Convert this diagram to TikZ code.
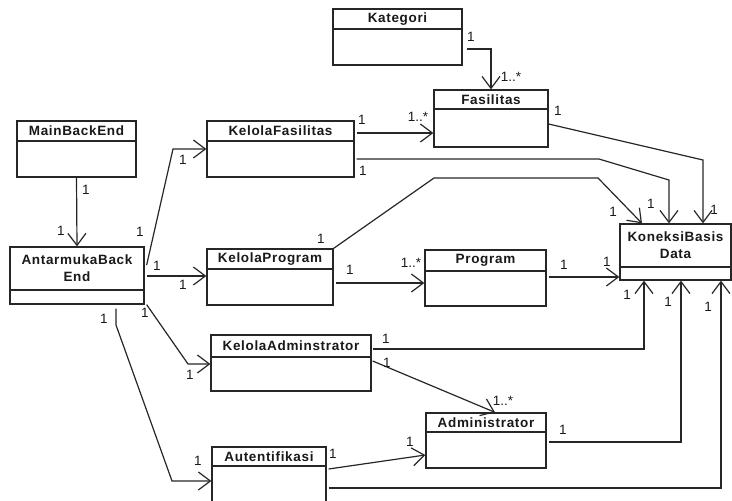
\documentclass[tikz,border=0pt]{standalone}
\usepackage{fontspec}
\setmainfont{Liberation Sans}
\usetikzlibrary{arrows.meta,fit}
\newfontfamily\titlefont[LetterSpace=5]{Liberation Sans}
\tikzset{
  classbox/.style={draw=black!85, line width=1.3pt, inner sep=0pt, fill=white},
  ctitle/.style={font=\titlefont\fontsize{13.5}{17}\selectfont\bfseries, align=center, inner sep=0pt, text=black!90},
  lab/.style={font=\fontsize{13.5}{15}\selectfont, inner sep=0pt, text=black!90},
  conn/.style={draw=black!85, line width=1.2pt, ->},
  >={Straight Barb[length=12pt,width=18pt,line width=1.2pt]}
}
\newcommand\umlclass[7]{%
  \node[classbox, fit={(#2,#3) (#4,#5)}] (#1) {};
  \draw[black!85, line width=1.3pt] (#2,#6) -- (#4,#6);
  \path (#2,#3) -- node[ctitle] (#1-title) {#7} (#4,#6);
}
\begin{document}
\begin{tikzpicture}[x=1pt,y=-1pt]
\useasboundingbox (0,0) rectangle (732,501);
\begin{scope}
\clip (0,0) rectangle (732,501);
\umlclass{kat}{333}{9}{462}{65}{29}{Kategori}
\umlclass{fas}{434}{90}{548}{147}{109}{Fasilitas}
\umlclass{main}{17}{121}{136}{177}{141}{MainBackEnd}
\umlclass{kf}{207}{121}{354}{177}{141}{KelolaFasilitas}
\umlclass{ant}{10}{247}{144}{304}{290}{AntarmukaBack\\End}
\umlclass{kp}{207}{249}{333}{305}{269}{KelolaProgram}
\umlclass{prog}{425}{250}{546}{306}{271}{Program}
\umlclass{kbd}{620}{224}{731}{280}{267}{KoneksiBasis\\Data}
\umlclass{ka}{211}{335}{371}{391}{357}{KelolaAdminstrator}
\umlclass{adm}{426}{413}{546}{468}{432}{Administrator}
\umlclass{aut}{212}{447}{326}{515}{466}{Autentifikasi}

% connectors
\draw[conn] (kat.east |- 0,49) ++(4,0) -| (fas.north);
\draw[conn] (kf.east |- 0,133) ++(2,0) -- (fas.west |- 0,133);
\draw[conn] (kf.east |- 0,159) ++(2,0) -- (599,159) -- (669,180) -- (kbd.north -| 669,0);
\draw[conn] (fas.east |- 0,124) -- (703,160) -- (kbd.north -| 703,0);
\draw[conn] (kp.north east) -- (434,178) -- (598,178) -- (kbd.north -| 642,0);
\draw[conn] (ant.east |- 0,265) ++(2,0) -- (173,149) -- (kf.west |- 0,149);
\draw[conn] (ant.east |- 0,276) ++(2,0) -- (kp.west |- 0,276);
\draw[conn] (ant.south east) ++(2,0) -- (188,364) -- (ka.west |- 0,364);
\draw[conn] (ant.south -| 116,0) ++(0,4) -- (116,325) -- (172,481) -- (aut.west |- 0,481);
\draw[conn] (main.south) -- (ant.north);
\draw[conn] (kp.east |- 0,283) ++(2,0) -- (prog.west |- 0,283);
\draw[conn] (prog.east |- 0,277) ++(2,0) -- (kbd.west |- 0,277);
\draw[conn] (ka.east |- 0,349) ++(1,0) -| (kbd.south -| 644,0);
\draw[conn] (ka.east |- 0,361) ++(1,0) -- (adm.north -| 495,0);
\draw[conn] (aut.east |- 0,469) ++(2,0) -- (adm.west |- 0,455);
\draw[conn] (adm.east |- 0,442) ++(2,0) -| (kbd.south -| 681,0);
\draw[conn] (aut.east |- 0,488) ++(2,0) -| (kbd.south -| 721,0);

% multiplicities
\node[lab] (l1) at (471,37) {1};
\node[lab] (l2) at (511,77) {1..*};
\node[lab] (l3) at (362,120) {1};
\node[lab] (l4) at (418,117) {1..*};
\node[lab] (l5) at (363,171) {1};
\node[lab] (l6) at (651,204) {1};
\node[lab] (l7) at (558,111) {1};
\node[lab] (l8) at (714,210) {1};
\node[lab] (l9) at (321,239) {1};
\node[lab] (l10) at (613,212) {1};
\node[lab] (l11) at (140,232) {1};
\node[lab] (l12) at (183,160) {1};
\node[lab] (l13) at (157,266) {1};
\node[lab] (l14) at (183,285) {1};
\node[lab] (l15) at (145,313) {1};
\node[lab] (l16) at (190,375) {1};
\node[lab] (l17) at (104,319) {1};
\node[lab] (l18) at (198,461) {1};
\node[lab] (l19) at (86,190) {1};
\node[lab] (l20) at (61,231) {1};
\node[lab] (l21) at (350,270) {1};
\node[lab] (l22) at (411,263) {1..*};
\node[lab] (l23) at (564,265) {1};
\node[lab] (l24) at (607,262) {1};
\node[lab] (l25) at (386,339) {1};
\node[lab] (l26) at (627,295) {1};
\node[lab] (l27) at (387,363) {1};
\node[lab] (l28) at (503,401) {1..*};
\node[lab] (l29) at (333,454) {1};
\node[lab] (l30) at (410,442) {1};
\node[lab] (l31) at (563,430) {1};
\node[lab] (l32) at (668,302) {1};
\node[lab] (l33) at (708,307) {1};
\end{scope}
\end{tikzpicture}
\end{document}
